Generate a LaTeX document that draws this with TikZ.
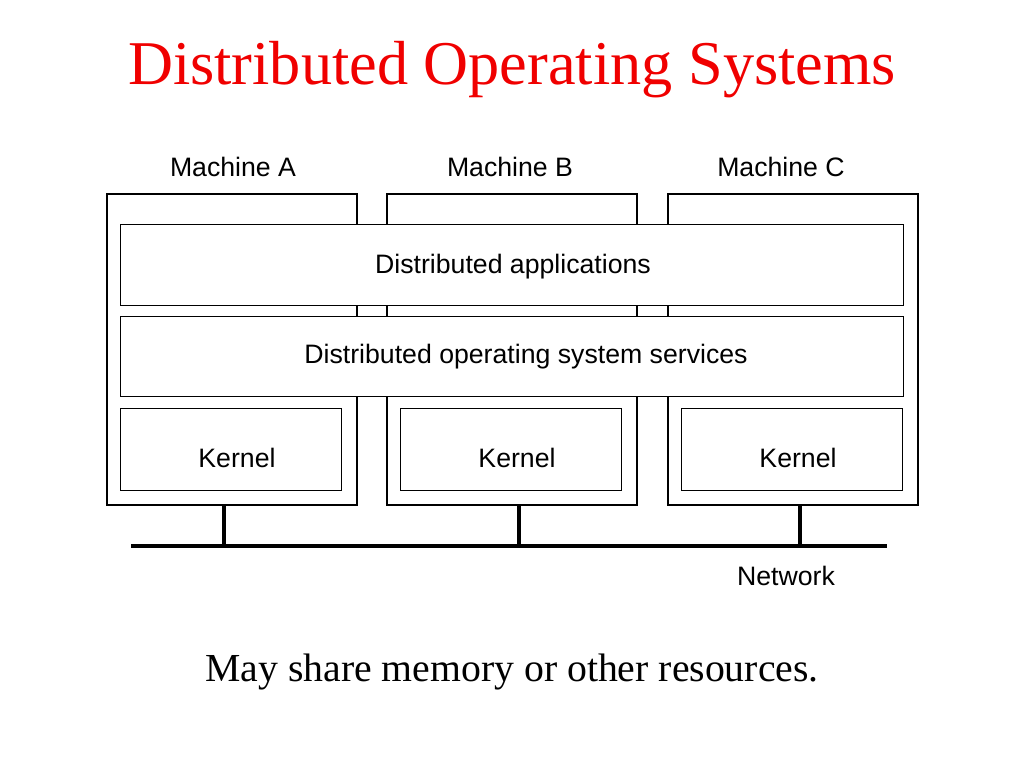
\documentclass[tikz,border=0pt]{standalone}
\usepackage{fontspec}
\setmainfont{Liberation Serif}
\newfontfamily\labelfont{Liberation Sans}
\usetikzlibrary{positioning}
\definecolor{titlered}{RGB}{240,0,0}

\begin{document}
\begin{tikzpicture}[x=0.75pt, y=-0.75pt,
    machine/.style={draw, line width=2.2pt},
    layer/.style={draw, line width=0.6pt, font=\labelfont\fontsize{20}{24}\selectfont},
    lbl/.style={font=\labelfont\fontsize{20}{24}\selectfont},
    net/.style={line width=3.6pt}]
    \useasboundingbox (0,0) rectangle (1024,768);

    \node[font=\fontsize{46.7}{52}\selectfont, text=titlered] (title) at (512,70) {Distributed Operating Systems};

    % machines
    \foreach \n/\x/\lx/\sx in {A/107/233/224, B/387/510/519, C/668/781/800} {
        \draw[machine] (\x,194) rectangle ++(250,311);
        \node[lbl] (lab\n) at (\lx,167) {Machine \n};
        \draw[line width=0.6pt] (\x+13,408) rectangle ++(221,82);
        \node[lbl] (kern\n) at (\x+130,458) {Kernel};
        \coordinate (top\n) at (\sx,505);
        \coordinate (bus\n) at (\sx,546);
    }

    % shared layers
    \draw[line width=0.6pt, fill=white] (120,224) rectangle (903,305);
    \node[lbl] (apps) at (513,267) {Distributed applications};
    \draw[line width=0.6pt, fill=white] (120,316) rectangle (903,396);
    \node[lbl] (serv) at (526,357) {Distributed operating system services};

    % network
    \coordinate (netL) at (131,546);
    \coordinate (netR) at (887,546);
    \draw[net] (netL) -- (netR);
    \foreach \n in {A,B,C}
        \draw[line width=2.4pt] (top\n) -- (bus\n);
    \node[lbl] (netlab) at (786,576) {Network};

    \node[font=\fontsize{29.8}{35}\selectfont] (note) at (512,672) {May share memory or other resources.};
\end{tikzpicture}
\end{document}
